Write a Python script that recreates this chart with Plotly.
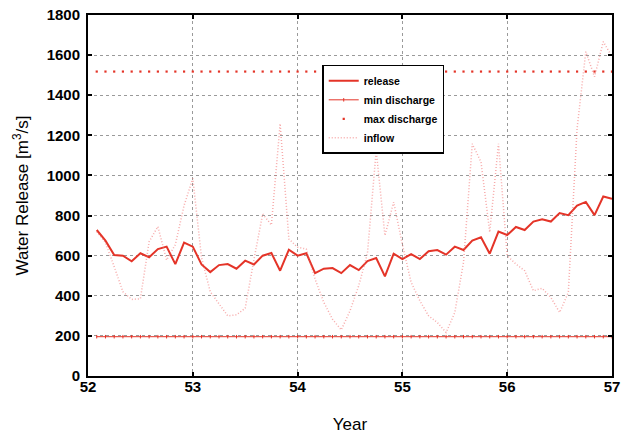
import numpy as np
import plotly.graph_objects as go

# Monthly time axis: first month of year 52 through end of year 56
months = np.arange(1, 61)
year = 52 + months / 12.0

release = [728, 675, 603, 600, 572, 612, 592, 633, 645, 558, 665, 645,
           556, 518, 553, 558, 535, 575, 556, 600, 613, 525, 630, 600,
           612, 513, 535, 538, 513, 553, 528, 573, 588, 497, 610, 583,
           608, 583, 622, 628, 605, 645, 628, 675, 692, 610, 720, 703,
           743, 728, 770, 782, 770, 812, 802, 850, 868, 802, 895, 883]

inflow = [720, 665, 545, 420, 382, 385, 670, 745, 578, 655, 850, 985,
          590, 420, 360, 300, 305, 338, 580, 808, 753, 1258, 683, 642,
          633, 483, 367, 283, 230, 325, 450, 612, 1125, 700, 867, 655,
          467, 375, 300, 267, 217, 317, 567, 1158, 1067, 717, 1158, 600,
          558, 525, 425, 437, 392, 317, 417, 1233, 1617, 1492, 1667, 1592]

min_discharge_value = 196
max_discharge_value = 1518
min_discharge = [min_discharge_value] * len(months)
max_discharge = [max_discharge_value] * len(months)

RED = "rgb(228,52,40)"
FONT = "Liberation Sans, Arial, Helvetica, sans-serif"

fig = go.Figure()
fig.add_trace(go.Scatter(
    x=year, y=release, name="release", mode="lines",
    line=dict(color=RED, width=2)))
fig.add_trace(go.Scatter(
    x=year, y=min_discharge, name="min discharge", mode="lines+markers",
    line=dict(color=RED, width=1),
    marker=dict(symbol="line-ns-open", size=2.5, color=RED,
                line=dict(color="rgba(228,52,40,0.6)", width=1))))
fig.add_trace(go.Scatter(
    x=year, y=max_discharge, name="max discharge", mode="markers",
    marker=dict(symbol="square", size=2.2, color=RED, line=dict(width=0))))
fig.add_trace(go.Scatter(
    x=year, y=inflow, name="inflow", mode="lines",
    line=dict(color="rgba(240,100,100,0.55)", width=1.5, dash="1px,2px")))

axis_common = dict(
    showline=True, linecolor="black", linewidth=2, mirror="ticks",
    ticks="inside", ticklen=4, tickcolor="black", tickwidth=1.5,
    showgrid=True, gridcolor="#9a9a9a", griddash="dot", gridwidth=1,
    zeroline=False, automargin=False,
    tickfont=dict(family=FONT, size=15, color="black", weight="bold"),
)

fig.update_xaxes(
    range=[52, 57], tick0=52, dtick=1,
    title=dict(text="Year", font=dict(family=FONT, size=17, color="black"),
               standoff=24),
    ticklabelstandoff=-4,
    **axis_common)
fig.update_yaxes(
    range=[0, 1800], tick0=0, dtick=200,
    title=dict(text="Water Release [m<sup>3</sup>/s]",
               font=dict(family=FONT, size=17, color="black"), standoff=14),
    ticklabelstandoff=3,
    **axis_common)

fig.update_layout(
    width=629, height=439,
    margin=dict(l=88, r=17, t=15, b=63),
    paper_bgcolor="white", plot_bgcolor="white",
    showlegend=True,
    legend=dict(
        x=0.447, y=0.862, xanchor="left", yanchor="top",
        bgcolor="white", bordercolor="black", borderwidth=1.5,
        font=dict(family=FONT, size=10.5, color="black", weight="bold"),
        itemwidth=30, tracegroupgap=0,
    ),
)

fig.write_html("out.html")
